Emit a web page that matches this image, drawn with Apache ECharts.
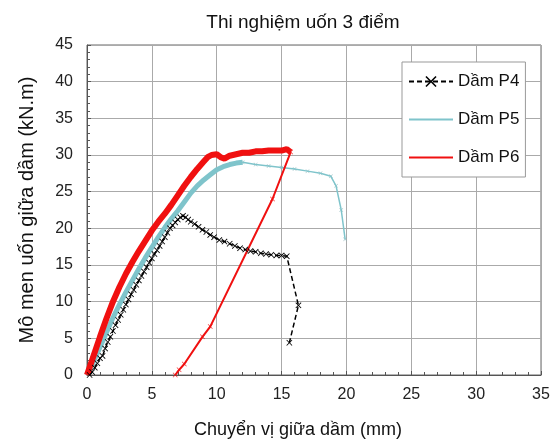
<!DOCTYPE html>
<html>
<head>
<meta charset="utf-8">
<script src="https://cdn.jsdelivr.net/npm/echarts@6/dist/echarts.min.js"></script>
<style>
  html, body { margin: 0; padding: 0; background: #fff; }
  #chart { width: 558px; height: 444px; }
</style>
</head>
<body>
<div id="chart"></div>
<script>
// Dầm P4 (đo dày, đoạn cuối thưa)
const p4 = [
  [0.2, 0], [0.4, 0.4], [0.6, 1.0], [0.8, 1.6], [1.0, 2.3], [1.2, 2.6], [1.4, 3.6], [1.6, 4.5],
  [1.8, 5.2], [2.0, 6.0], [2.2, 6.8], [2.4, 7.5], [2.6, 8.2], [2.8, 8.9], [3.0, 9.6], [3.2, 10.3],
  [3.4, 11.0], [3.6, 11.6], [3.8, 12.3], [4.0, 12.9], [4.2, 13.5], [4.4, 14.1], [4.6, 14.7],
  [4.8, 15.3], [5.0, 15.9], [5.2, 16.5], [5.4, 17.0], [5.6, 17.6], [5.8, 18.2], [6.0, 18.8],
  [6.2, 19.4], [6.4, 20.0], [6.6, 20.4], [6.8, 20.8], [7.0, 21.2], [7.2, 21.5], [7.4, 21.7],
  [7.6, 21.5], [7.8, 21.2], [8.0, 20.9], [8.3, 20.6], [8.6, 20.2], [8.9, 19.8], [9.2, 19.5],
  [9.5, 19.1], [9.8, 18.8], [10.2, 18.4], [10.6, 18.2], [11.0, 17.9], [11.4, 17.6], [11.8, 17.3],
  [12.2, 17.1], [12.6, 16.9], [13.0, 16.8], [13.4, 16.6], [13.8, 16.5], [14.2, 16.4], [14.6, 16.3],
  [15.0, 16.3], [15.4, 16.2], [16.3, 9.5], [15.6, 4.4]
]
// Dầm P5: đoạn dày và đoạn mảnh sau đỉnh
const p5Dense = [
  [0, 0], [0.5, 1.8], [1, 3.8], [1.5, 5.8], [2, 7.8], [2.5, 9.6], [3, 11.3], [3.5, 12.9], [4, 14.5],
  [4.5, 16.0], [5, 17.4], [5.5, 18.8], [6, 20.1], [6.5, 21.3], [7, 22.4], [7.5, 23.6], [8, 24.8],
  [8.5, 25.8], [9, 26.6], [9.5, 27.3], [10, 28.0], [10.5, 28.4], [11, 28.7], [11.5, 28.9], [12, 29.0]
]
const p5Tail = [
  [12, 29.0], [13, 28.7], [14, 28.5], [15, 28.3], [16, 28.1], [17, 27.8], [18, 27.5], [18.8, 27.1],
  [19.2, 25.8], [19.6, 22.5], [19.9, 18.5]
]
// Dầm P6: gia tải (dày) và dỡ tải (mảnh)
const p6Dense = [
  [0, 0], [0.5, 2.6], [1, 5.2], [1.5, 7.7], [2, 10.0], [2.5, 12.0], [3, 13.8], [3.5, 15.4], [4, 16.9],
  [4.5, 18.3], [5, 19.7], [5.5, 20.9], [6, 22.0], [6.5, 23.2], [7, 24.5], [7.5, 25.8], [8, 27.0],
  [8.5, 28.1], [9, 29.1], [9.3, 29.7], [9.6, 30.0], [10, 30.1], [10.3, 29.7], [10.6, 29.5], [11, 29.9],
  [11.5, 30.1], [12, 30.3], [12.5, 30.3], [13, 30.5], [13.5, 30.5], [14, 30.6], [14.5, 30.6],
  [15, 30.6], [15.4, 30.8], [15.7, 30.4]
]
const p6Unload = [
  [15.7, 30.4], [14.3, 24.0], [9.5, 6.6], [8.9, 5.2], [7.5, 1.5], [7.1, 0.7], [6.8, 0]
]

const xMark = 'path://M0,1L1,0L5,4L9,0L10,1L6,5L10,9L9,10L5,6L1,10L0,9L4,5Z'
const fontFamily = 'Liberation Sans, Arial, sans-serif'
const cyan = '#7fc4cb'
const red = '#f01010'

const chart = echarts.init(document.getElementById('chart'))
chart.setOption({
  backgroundColor: '#fff',
  animation: false,
  title: {
    text: 'Thi nghiệm uốn 3 điểm',
    left: 298,
    textAlign: 'center',
    top: 8,
    textStyle: { fontFamily, fontSize: 19, fontWeight: 'normal', color: '#111' }
  },
  grid: {
    left: 87,
    right: 17,
    top: 45,
    bottom: 66,
    show: true,
    borderColor: '#666',
    borderWidth: 1
  },
  legend: {
    orient: 'vertical',
    left: 402,
    top: 62,
    padding: [11, 6, 11, 6],
    itemWidth: 44,
    itemHeight: 14,
    itemGap: 21,
    backgroundColor: '#fff',
    borderColor: '#999',
    borderWidth: 1,
    textStyle: { fontFamily, fontSize: 17, color: '#111' },
    data: [
      { name: 'Dầm P4' },
      { name: 'Dầm P5', itemStyle: { opacity: 0 } },
      { name: 'Dầm P6', itemStyle: { opacity: 0 } }
    ]
  },
  xAxis: {
    type: 'value',
    min: 0,
    max: 35,
    interval: 5,
    name: 'Chuyển vị giữa dầm (mm)',
    nameLocation: 'middle',
    nameGap: 46,
    nameTextStyle: { fontFamily, fontSize: 18, color: '#111', padding: [0, 32, 0, 0] },
    axisLine: { lineStyle: { color: '#555' } },
    axisTick: { inside: true, length: 4, lineStyle: { color: '#555' } },
    minorTick: { show: true, splitNumber: 5, length: 3, lineStyle: { color: '#555' } },
    axisLabel: { fontFamily, fontSize: 16, color: '#222', margin: 12 },
    splitLine: { lineStyle: { color: '#aaa' } }
  },
  yAxis: {
    type: 'value',
    min: 0,
    max: 45,
    interval: 5,
    name: 'Mô men uốn giữa dầm (kN.m)',
    nameLocation: 'middle',
    nameGap: 50,
    nameTextStyle: { fontFamily, fontSize: 20, color: '#111' },
    axisLine: { lineStyle: { color: '#555' } },
    axisTick: { inside: true, length: 4, lineStyle: { color: '#555' } },
    minorTick: { show: true, splitNumber: 5, length: 3, lineStyle: { color: '#555' } },
    axisLabel: { fontFamily, fontSize: 16, color: '#222', margin: 14 },
    splitLine: { lineStyle: { color: '#aaa' } }
  },
  series: [
    {
      name: 'P5 dense',
      type: 'line',
      data: p5Dense,
      symbol: 'none',
      color: cyan,
      lineStyle: { width: 5, color: cyan }
    },
    {
      name: 'Dầm P5',
      type: 'line',
      data: p5Tail,
      symbol: 'none',
      color: cyan,
      lineStyle: { width: 1.5, color: cyan }
    },
    {
      name: 'P5 marks',
      type: 'scatter',
      data: p5Tail,
      symbol: xMark,
      symbolSize: 4,
      itemStyle: { color: '#8fb8bc' }
    },
    {
      name: 'Dầm P4',
      type: 'line',
      data: p4,
      symbol: xMark,
      symbolSize: 6,
      color: '#000',
      itemStyle: { color: '#000' },
      lineStyle: { width: 1.5, color: '#000', type: [5, 3] }
    },
    {
      name: 'P6 dense',
      type: 'line',
      data: p6Dense,
      symbol: 'none',
      color: red,
      lineStyle: { width: 6, color: red }
    },
    {
      name: 'Dầm P6',
      type: 'line',
      data: p6Unload,
      symbol: 'none',
      color: red,
      lineStyle: { width: 2, color: red }
    },
    {
      name: 'P6 marks',
      type: 'scatter',
      data: p6Unload,
      symbol: xMark,
      symbolSize: 5,
      itemStyle: { color: red }
    }
  ]
})
</script>
</body>
</html>
